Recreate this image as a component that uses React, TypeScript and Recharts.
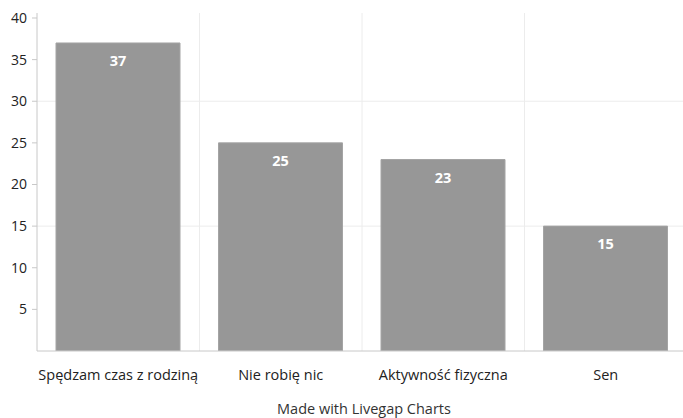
import { BarChart, Bar, XAxis, YAxis, CartesianGrid, LabelList } from "recharts";

const categories = ["Spędzam czas z rodziną", "Nie robię nic", "Aktywność fizyczna", "Sen"];
const values = [37, 25, 23, 15];
const yTicks = [5, 10, 15, 20, 25, 30, 35, 40];
const gridValues = [15, 30];

const data = categories.map((name, i) => ({ name, value: values[i] }));

const FONT = "'Open Sans', sans-serif";

export default function App() {
  return (
    <div style={{ position: "absolute", left: 0, top: 0, width: 683, height: 418, background: "#fff", fontFamily: FONT }}>
      <BarChart
        width={683}
        height={418}
        data={data}
        margin={{ top: 13, right: -4, left: 0, bottom: 32 }}
        barCategoryGap="11.7%"
      >
        <CartesianGrid
          stroke="#ececec"
          horizontalValues={gridValues}
          verticalCoordinatesGenerator={({ offset }: any) =>
            categories.map((_, i) => offset.left + (offset.width * (i + 1)) / categories.length)
          }
        />
        <XAxis
          dataKey="name"
          stroke="#c8c8c8"
          tickSize={0}
          tickMargin={19}
          height={35}
          tick={{ fontSize: 14.5, fill: "#222", fontFamily: FONT }}
          interval={0}
        />
        <YAxis
          width={37}
          domain={[0, 40.6]}
          allowDataOverflow
          ticks={yTicks}
          stroke="#c8c8c8"
          tickSize={5}
          tickMargin={5}
          tick={{ fontSize: 14, fill: "#222", fontFamily: FONT }}
        />
        <Bar dataKey="value" fill="#979797" stroke="#a4a4a4" isAnimationActive={false}>
          <LabelList
            dataKey="value"
            position="insideTop"
            offset={13}
            fill="#fff"
            style={{ fontSize: 14.5, fontWeight: 700, fontFamily: FONT }}
          />
        </Bar>
      </BarChart>
      <div
        style={{
          position: "absolute",
          top: 399,
          left: 0,
          width: 683,
          textAlign: "center",
          fontSize: 14.5,
          color: "#333",
          paddingLeft: 45,
          boxSizing: "border-box",
        }}
      >
        Made with Livegap Charts
      </div>
    </div>
  );
}
